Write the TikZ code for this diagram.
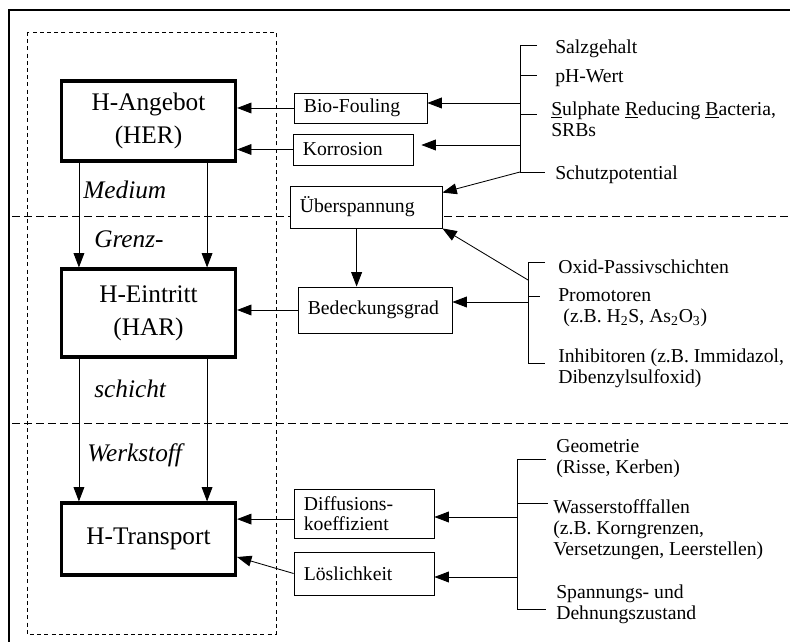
\documentclass[tikz,border=0pt]{standalone}
\usepackage{fontspec}
\setmainfont{Liberation Serif}
\usetikzlibrary{arrows.meta}

\tikzset{
	bigbox/.style={draw, line width=2.2pt, fill=white, minimum width=4.35cm, align=center, font=\fontsize{18}{23.5}\selectfont},
	smallbox/.style={draw, line width=0.6pt, fill=white, align=left, inner xsep=7pt, inner ysep=2pt, font=\fontsize{14}{14.5}\selectfont},
	lbl/.style={anchor=north west, align=left, inner sep=0pt, font=\fontsize{14}{15}\selectfont},
	zone/.style={anchor=base west, inner sep=0pt, font=\fontsize{18}{22}\selectfont\itshape},
	arr/.style={-{Triangle[length=3.6mm,width=2.7mm]}, line width=0.6pt},
	sep/.style={dash pattern=on 2mm off 1mm, line width=0.6pt},
	brk/.style={line width=0.6pt}
}

\begin{document}
\begin{tikzpicture}[x=0.025cm,y=-0.025cm]
					\useasboundingbox (0,0) rectangle (790,642);
					\draw[line width=2pt] (9,642) -- (9,10) -- (790,10);
					\draw[dash pattern=on 1mm off 0.8mm, line width=0.5pt] (27,32) rectangle (276,634);
					\draw[sep] (12,216) -- (790,216);
					\draw[sep] (12,423) -- (790,423);

					% Hauptbereiche
					\node[bigbox, minimum height=2.0cm] (ang) at (148.5,121) {H-Angebot\\(HER)};
					\node[bigbox, minimum height=2.2cm] (ein) at (148.5,313) {H-Eintritt\\(HAR)};
					\node[bigbox, minimum height=1.8cm] (tra) at (148.5,539) {H-Transport};

					\node[zone] (med) at (83,199) {Medium};
					\node[zone] (gre) at (94,248) {Grenz-};
					\node[zone] (sch) at (94,398) {schicht};
					\node[zone] (wer) at (87,462) {Werkstoff};

					% Einflussgroessen
					\node[smallbox, text width=2.83cm, minimum height=0.75cm] (bio) at (360.5,108) {Bio-Fouling};
					\node[smallbox, text width=2.506cm, minimum height=0.775cm] (kor) at (353,149.5) {Korrosion};
					\node[smallbox, text width=3.306cm, minimum height=1.05cm] (ueb) at (366,207) {Überspannung};
					\node[smallbox, text width=3.356cm, minimum height=1.15cm] (bed) at (375,310) {Bedeckungsgrad};
					\node[smallbox, text width=3.006cm, minimum height=1.225cm] (dif) at (364,513.5) {Diffusions-\\koeffizient};
					\node[smallbox, text width=3.006cm, minimum height=1.075cm] (los) at (364,573.5) {Löslichkeit};

					\node[lbl] (salz) at (555,39.5) {Salzgehalt};
					\node[lbl] (ph) at (555,69.5) {pH-Wert};
					\node[lbl] (srb) at (551,101.5) {\underline{S}ulphate \underline{R}educing \underline{B}acteria,\\SRBs};
					\node[lbl] (schu) at (555,165.5) {Schutzpotential};
					\node[lbl] (oxid) at (558,259.5) {Oxid-Passivschichten};
					\node[lbl] (prom) at (558,288.5) {Promotoren\\\hspace*{1.3mm}(z.B. H\textsubscript{2}S, As\textsubscript{2}O\textsubscript{3})};
					\node[lbl] (inh) at (558,348.5) {Inhibitoren (z.B. Immidazol,\\Dibenzylsulfoxid)};
					\node[lbl] (geo) at (556,439.5) {Geometrie\\(Risse, Kerben)};
					\node[lbl] (was) at (553,499.5) {Wasserstofffallen\\(z.B. Korngrenzen,\\Versetzungen, Leerstellen)};
					\node[lbl] (spa) at (556,584.5) {Spannungs- und\\Dehnungszustand};

					% Klammern
					\coordinate (b1t) at (520,45);
					\coordinate (b1b) at (520,172);
					\coordinate (b1x) at (520,103);
					\coordinate (b1y) at (520,145);
					\draw[brk] (537,45) -- (b1t) -- (b1b) -- (545,172);
					\draw[brk] (520,75) -- (537,75);
					\draw[brk] (520,114) -- (537,114);

					\coordinate (b2t) at (528,262);
					\coordinate (b2b) at (528,363);
					\coordinate (b2x) at (528,302);
					\coordinate (b2y) at (528,280);
					\draw[brk] (545,262) -- (b2t) -- (b2b) -- (545,363);
					\draw[brk] (528,296) -- (540,296);

					\coordinate (b3t) at (517,459);
					\coordinate (b3b) at (517,609);
					\coordinate (b3x) at (517,517);
					\coordinate (b3y) at (517,577);
					\draw[brk] (546,459) -- (b3t) -- (b3b) -- (546,609);
					\draw[brk] (517,503) -- (548,503);

					% Pfeile
					\draw[arr] (b1x) -- (b1x -| bio.east);
					\draw[arr, shorten >=2mm] (b1y) -- (b1y -| kor.east);
					\draw[arr] (b1b) -- ([yshift=-0.175cm]ueb.north east);
					\draw[arr] (b2x) -- (b2x -| bed.east);
					\draw[arr] (b2y) -- (ueb.south east);
					\draw[arr] (b3x) -- (b3x -| dif.east);
					\draw[arr] (b3y) -- (b3y -| los.east);

					\draw[arr] (bio.west) -- (bio.west -| ang.east);
					\draw[arr] (kor.west) -- (kor.west -| ang.east);
					\draw[arr] (bed.west) -- (bed.west -| ein.east);
					\draw[arr] ([yshift=-0.14cm]dif.west) -- ([yshift=-0.14cm]dif.west -| tra.east);
					\draw[arr] (los.west) -- ([yshift=-0.45cm]tra.east);

					\coordinate (u) at ([xshift=1.675cm]ueb.south west);
					\draw[arr] (u) -- (u |- bed.north);

					\draw[arr] ([xshift=0.475cm]ang.south west) -- ([xshift=0.475cm]ein.north west);
					\draw[arr] ([xshift=-0.75cm]ang.south east) -- ([xshift=-0.75cm]ein.north east);
					\draw[arr] ([xshift=0.475cm]ein.south west) -- ([xshift=0.475cm]tra.north west);
					\draw[arr] ([xshift=-0.75cm]ein.south east) -- ([xshift=-0.75cm]tra.north east);
\end{tikzpicture}
\end{document}
